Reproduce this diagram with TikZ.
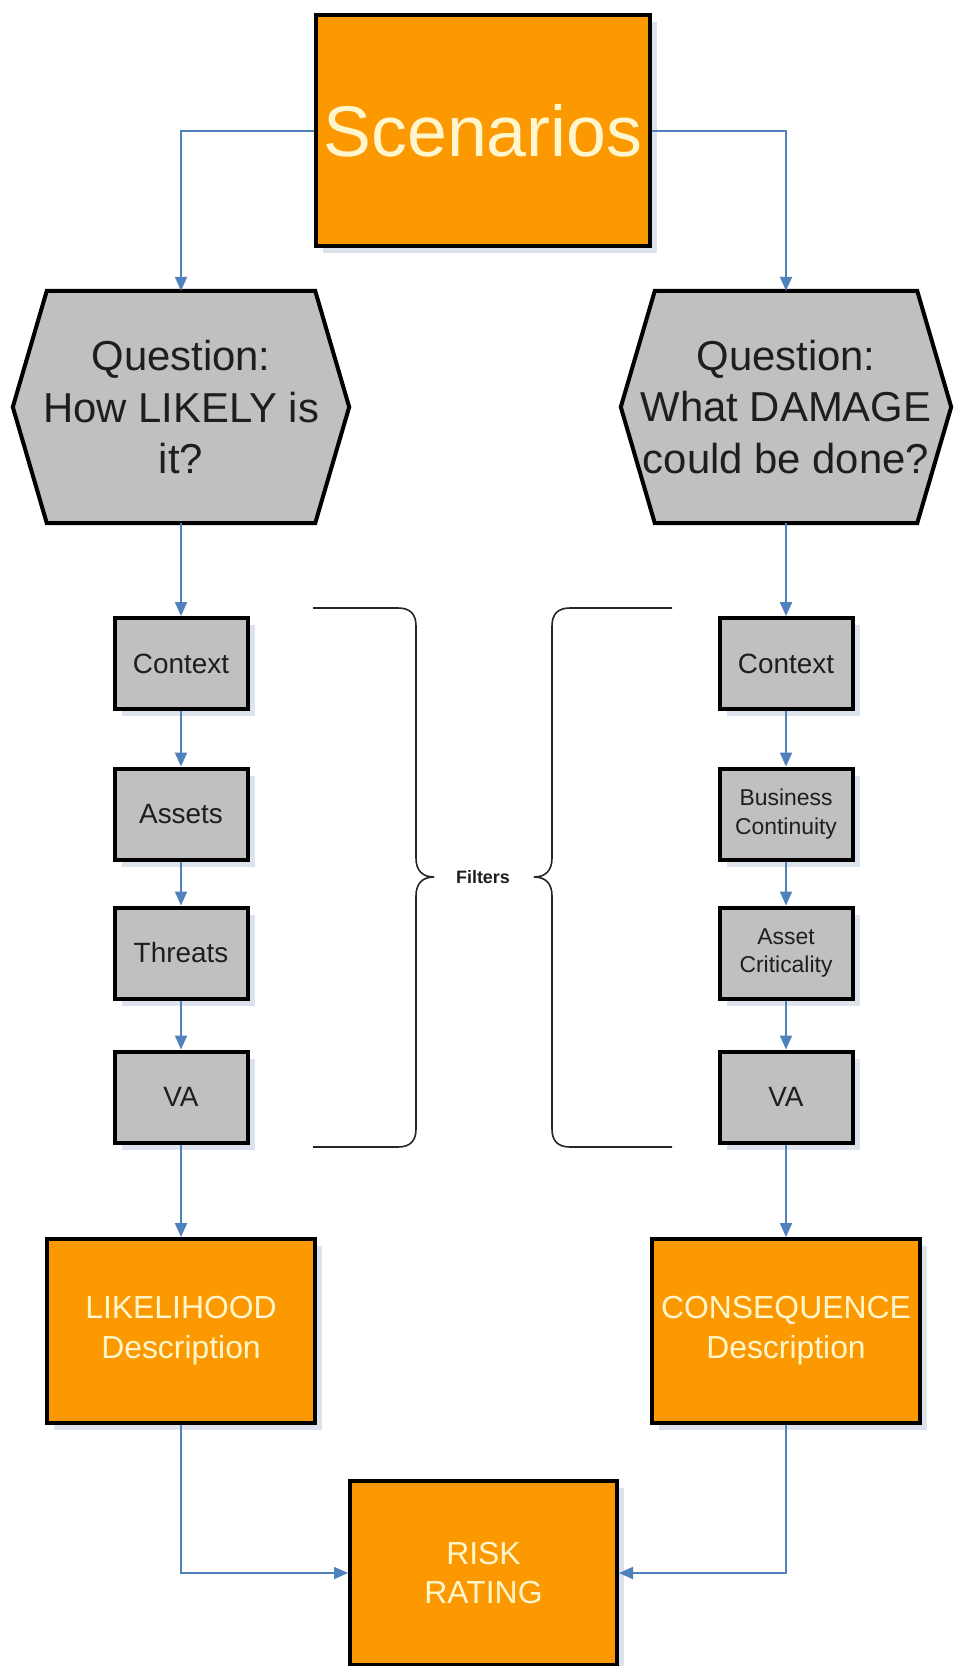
\documentclass[tikz,border=0pt]{standalone}
\usepackage{fontspec}
\setmainfont{Liberation Sans}
\usetikzlibrary{arrows.meta,calc,shadows}

\definecolor{boxorange}{RGB}{252,153,0}
\definecolor{boxgrey}{RGB}{192,192,192}
\definecolor{linkblue}{RGB}{79,129,189}
\definecolor{cream}{RGB}{255,246,205}
\definecolor{shade}{RGB}{221,227,237}
\definecolor{inkgrey}{RGB}{30,30,30}

\tikzset{
  boxshadow/.style={drop shadow={shadow xshift=7bp,shadow yshift=-7bp,fill=shade,opacity=1}},
  orangebox/.style={draw=black, line width=4bp, fill=boxorange, text=cream,
    align=center, boxshadow, inner sep=0pt,
    font=\fontsize{32}{40}\selectfont},
  greybox/.style={draw=black, line width=4bp, fill=boxgrey, text=inkgrey,
    align=center, boxshadow, inner sep=0pt,
    minimum width=133bp, minimum height=91bp,
    font=\fontsize{28}{34}\selectfont},
  smalltxt/.style={font=\fontsize{23}{29}\selectfont},
  hexframe/.style={minimum height=232bp, inner sep=0pt, align=center,
    text=inkgrey, font=\fontsize{42}{52}\selectfont},
  hexline/.style={draw=black, line width=4bp, fill=boxgrey, line join=miter},
  hexshade/.style={fill=shade},
  link/.style={draw=linkblue, line width=2bp, -{Triangle[length=14bp,width=12bp]}},
  bracket/.style={draw=black!85, line width=1.6bp},
}

\begin{document}
\begin{tikzpicture}[x=1bp, y=-1bp]
  \useasboundingbox (0,0) rectangle (954,1666);
  \fill[white] (0,0) rectangle (954,1666);

  % top box
  \node[orangebox, minimum width=334bp, minimum height=231bp,
        font=\fontsize{72}{80}\selectfont] (scen) at (483,130.5) {Scenarios};

  % question hexagons: a framing node plus the outline drawn on its anchors
  \node[hexframe, minimum width=336bp] (qL) at (181,407) {};
  \node[hexframe, minimum width=330bp] (qR) at (786,407) {};
  \foreach \q in {qL,qR}{
    \fill[hexshade, shift={(7,7)}]
      ($(\q.north west)+(34,0)$) -- ($(\q.north east)+(-34,0)$) -- (\q.east)
      -- ($(\q.south east)+(-34,0)$) -- ($(\q.south west)+(34,0)$) -- (\q.west) -- cycle;
    \draw[hexline]
      ($(\q.north west)+(34,0)$) -- ($(\q.north east)+(-34,0)$) -- (\q.east)
      -- ($(\q.south east)+(-34,0)$) -- ($(\q.south west)+(34,0)$) -- (\q.west) -- cycle;
  }
  \node[hexframe, minimum width=336bp] at (qL.center) {Question:\\How LIKELY is\\it?};
  \node[hexframe, minimum width=330bp] at (qR.center) {Question:\\What DAMAGE\\could be done?};

  % left column of filters
  \node[greybox] (ctxL) at (181,663.5) {Context};
  \node[greybox] (astL) at (181,814) {Assets};
  \node[greybox] (thrL) at (181,953) {Threats};
  \node[greybox] (vaL)  at (181,1097) {VA};

  % right column of filters
  \node[greybox] (ctxR) at (786,663.5) {Context};
  \node[greybox, smalltxt] (bcR) at (786,814) {Business\\Continuity};
  \node[greybox, smalltxt] (acR) at (786,953) {Asset\\Criticality};
  \node[greybox] (vaR)  at (786,1097) {VA};

  % result boxes
  \node[orangebox, minimum width=268bp, minimum height=184bp] (likeB) at (181,1331)
    {LIKELIHOOD\\Description};
  \node[orangebox, minimum width=268bp, minimum height=184bp] (consB) at (786,1331)
    {CONSEQUENCE\\Description};
  \node[orangebox, minimum width=267bp, minimum height=184bp] (risk) at (483.5,1573)
    {RISK\\RATING};

  % braces around the filter columns
  \draw[bracket] (313,608) -- (398,608)
    .. controls (410,608) and (416,614) .. (416,626) -- (416,858)
    .. controls (416,870) and (422,877) .. (434,877)
    .. controls (422,877) and (416,884) .. (416,896) -- (416,1129)
    .. controls (416,1141) and (410,1147) .. (398,1147) -- (313,1147);
  \draw[bracket] (672,608) -- (570,608)
    .. controls (558,608) and (552,614) .. (552,626) -- (552,858)
    .. controls (552,870) and (546,877) .. (534,877)
    .. controls (546,877) and (552,884) .. (552,896) -- (552,1129)
    .. controls (552,1141) and (558,1147) .. (570,1147) -- (672,1147);
  \node[font=\bfseries\fontsize{18}{22}\selectfont, text=inkgrey] (filt) at (483,877) {Filters};

  % connectors
  \draw[link] (scen.west) -| (qL.north);
  \draw[link] (scen.east) -| (qR.north);
  \draw[link] (qL.south) -- (ctxL.north);
  \draw[link] (ctxL) -- (astL);
  \draw[link] (astL) -- (thrL);
  \draw[link] (thrL) -- (vaL);
  \draw[link] (vaL) -- (likeB);
  \draw[link] (qR.south) -- (ctxR.north);
  \draw[link] (ctxR) -- (bcR);
  \draw[link] (bcR) -- (acR);
  \draw[link] (acR) -- (vaR);
  \draw[link] (vaR) -- (consB);
  \draw[link] (likeB.south) |- (risk.west);
  \draw[link] (consB.south) |- (risk.east);
\end{tikzpicture}
\end{document}
